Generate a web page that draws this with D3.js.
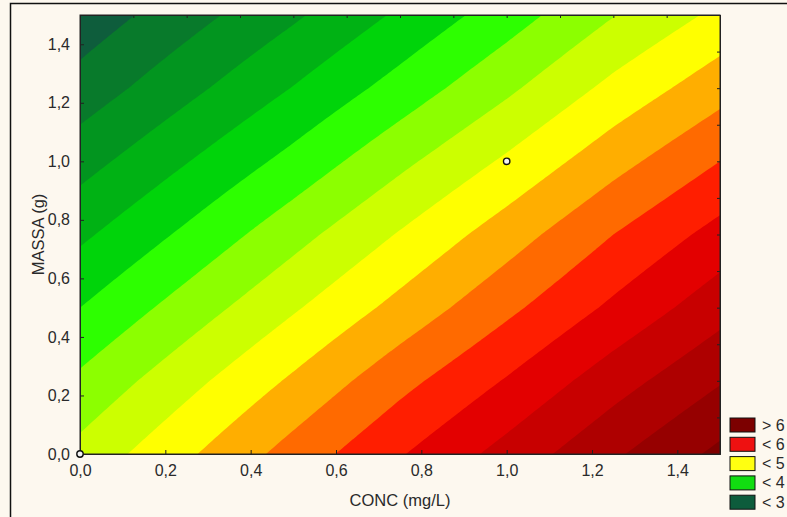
<!DOCTYPE html>
<html><head><meta charset="utf-8">
<script src="https://cdn.jsdelivr.net/npm/d3@7"></script>
<style>html,body{margin:0;padding:0;background:#fdf8ef;} svg{display:block;}</style>
</head><body>
<svg id="c" width="787" height="517"></svg>
<script>
// ---- data ----
const xValues = [0, 0.25, 0.5, 0.75, 1.0, 1.25, 1.5];   // CONC (mg/L)
const yValues = [0, 0.25, 0.5, 0.75, 1.0, 1.25, 1.5];   // MASSA (g)
// response values, one row per yValue, one column per xValue
const zRows = [
  [4.58, 4.96, 5.35, 5.73, 6.09, 6.46, 6.81],
  [4.30, 4.67, 5.04, 5.42, 5.77, 6.14, 6.48],
  [4.00, 4.36, 4.72, 5.08, 5.44, 5.80, 6.15],
  [3.70, 4.05, 4.41, 4.77, 5.13, 5.50, 5.84],
  [3.40, 3.74, 4.08, 4.44, 4.79, 5.16, 5.50],
  [3.10, 3.43, 3.76, 4.10, 4.45, 4.82, 5.15],
  [2.84, 3.15, 3.46, 3.79, 4.13, 4.49, 4.81]
];
const levels = [3.0, 3.25, 3.5, 3.75, 4.0, 4.25, 4.5, 4.75, 5.0, 5.25, 5.5, 5.75, 6.0, 6.25, 6.5, 6.75];
const levelColors = ["#0e5d3c", "#087a2b", "#02951f", "#00b214", "#00d40a", "#2dff00", "#8cff00", "#ccff00",
  "#ffff00", "#ffae00", "#ff6a00", "#ff1e00", "#e30000", "#c80000", "#ae0000", "#960000", "#7e0000"];
const xTicks = [0, 0.2, 0.4, 0.6, 0.8, 1.0, 1.2, 1.4];
const yTicks = [0, 0.2, 0.4, 0.6, 0.8, 1.0, 1.2, 1.4];
const minorTicks = [0, 0.125, 0.25, 0.375, 0.5, 0.625, 0.75, 0.875, 1.0, 1.125, 1.25, 1.375, 1.5];
const legendLabels = ["> 6", "< 6", "< 5", "< 4", "< 3"];
const legendColors = ["#7c0000", "#ee1111", "#ffff11", "#11dd11", "#0d5c3c"];
const designPoints = [[0, 0], [1.0, 1.0]];

// ---- layout ----
const svg = d3.select("#c");
const L = 80, R = 720, T = 15, B = 454;
const x = d3.scaleLinear().domain([0, 1.5]).range([L, R]);
const y = d3.scaleLinear().domain([0, 1.5]).range([B, T]);
const font = "'Liberation Sans', Arial, sans-serif";
const ink = "#2a2a2a";

svg.append("rect").attr("x", 0).attr("y", 0).attr("width", 787).attr("height", 517).attr("fill", "#fdf8ef");
svg.append("rect").attr("x", 10.5).attr("y", 3.5).attr("width", 800).attr("height", 540)
  .attr("fill", "none").attr("stroke", "#111").attr("stroke-width", 1.5);

// fine sampling of the surface for smooth contour bands
const N = 151;
const fx = d3.scaleLinear().domain([0, N - 1]).range([0, 1.5]);
function zAt(xv, yv) {
  const step = xValues[1] - xValues[0];
  let i = Math.min(Math.floor(xv / step), xValues.length - 2);
  let j = Math.min(Math.floor(yv / step), yValues.length - 2);
  const u = (xv - xValues[i]) / step, v = (yv - yValues[j]) / step;
  return zRows[j][i] * (1 - u) * (1 - v) + zRows[j][i + 1] * u * (1 - v) +
         zRows[j + 1][i] * (1 - u) * v + zRows[j + 1][i + 1] * u * v;
}
const values = new Array(N * N);
for (let gj = 0; gj < N; gj++) for (let gi = 0; gi < N; gi++) values[gi + gj * N] = zAt(fx(gi), fx(gj));
const contours = d3.contours().size([N, N]).thresholds(levels)(values);
const proj = d3.geoTransform({
  point: function (cx, cy) { this.stream.point(x(fx(cx - 0.5)), y(fx(cy - 0.5))); }
});
const path = d3.geoPath(proj);

svg.append("clipPath").attr("id", "plotclip").append("rect")
  .attr("x", L).attr("y", T).attr("width", R - L).attr("height", B - T);
const gPlot = svg.append("g").attr("clip-path", "url(#plotclip)");
gPlot.append("rect").attr("x", L).attr("y", T).attr("width", R - L).attr("height", B - T).attr("fill", levelColors[0]);
gPlot.selectAll("path.band").data(contours).join("path").attr("class", "band")
  .attr("d", path).attr("fill", (d, i) => levelColors[i + 1]);

// frame
svg.append("rect").attr("x", L).attr("y", T).attr("width", R - L).attr("height", B - T)
  .attr("fill", "none").attr("stroke", "#222").attr("stroke-width", 1);

const fmt = d => d.toFixed(1).replace(".", ",");
const gx = svg.append("g").attr("transform", `translate(0,${B})`)
  .call(d3.axisBottom(x).tickValues(xTicks).tickSize(-4).tickPadding(11).tickFormat(fmt));
const gy = svg.append("g").attr("transform", `translate(${L},0)`)
  .call(d3.axisLeft(y).tickValues(yTicks).tickSize(-4).tickPadding(10).tickFormat(fmt));
const gt = svg.append("g").attr("transform", `translate(0,${T})`)
  .call(d3.axisTop(x).tickValues(minorTicks).tickSize(-3).tickFormat(""));
const gr = svg.append("g").attr("transform", `translate(${R},0)`)
  .call(d3.axisRight(y).tickValues(minorTicks).tickSize(-3).tickFormat(""));
[gx, gy, gt, gr].forEach(g => {
  g.select(".domain").attr("stroke", "#222");
  g.selectAll(".tick line").attr("stroke", "#222");
  g.selectAll(".tick text").attr("fill", ink).style("font-family", font).style("font-size", "16px");
});

// design points
svg.selectAll("circle.pt").data(designPoints).join("circle").attr("class", "pt")
  .attr("cx", d => x(d[0])).attr("cy", d => y(d[1])).attr("r", 3.2)
  .attr("fill", "#f4f4f4").attr("stroke", "#111").attr("stroke-width", 1.4);

// axis titles
svg.append("text").attr("x", (L + R) / 2).attr("y", 506).attr("text-anchor", "middle")
  .style("font-family", font).style("font-size", "16.5px").attr("fill", ink).text("CONC (mg/L)");
svg.append("text").attr("transform", `translate(44,${(T + B) / 2}) rotate(-90)`).attr("text-anchor", "middle")
  .style("font-family", font).style("font-size", "16.5px").attr("fill", ink).text("MASSA (g)");

// legend
const lg = svg.append("g");
legendLabels.forEach((lab, i) => {
  const yy = 418 + i * 19.3;
  lg.append("rect").attr("x", 730).attr("y", yy).attr("width", 25).attr("height", 14)
    .attr("fill", legendColors[i]).attr("stroke", "#111").attr("stroke-width", 1);
  lg.append("text").attr("x", 762).attr("y", yy + 12.5).style("font-family", font).style("font-size", "16px")
    .attr("fill", ink).text(lab);
});
</script>
</body></html>
